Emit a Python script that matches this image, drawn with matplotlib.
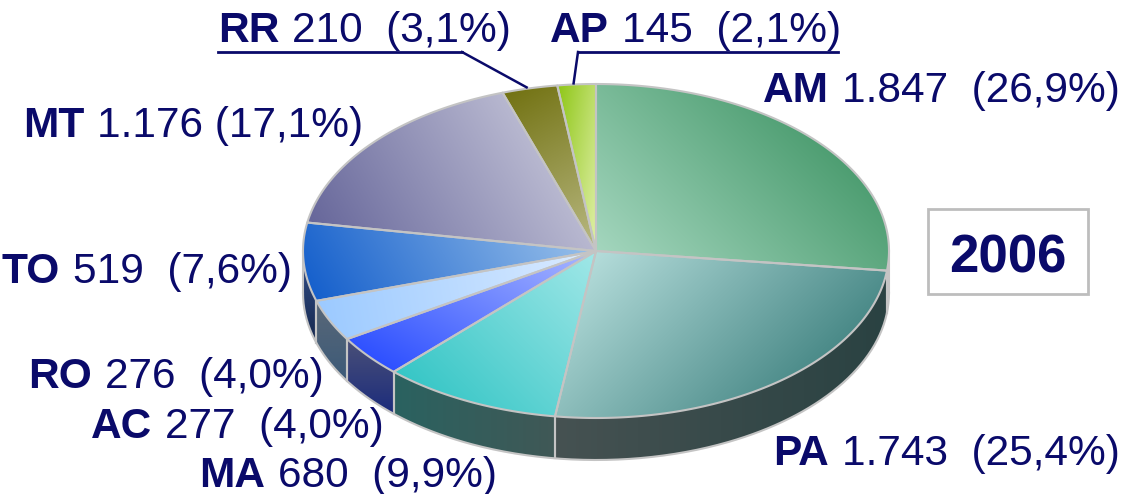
import numpy as np
import matplotlib
matplotlib.use("Agg")
import matplotlib.pyplot as plt
from matplotlib.patches import Polygon, Rectangle
from matplotlib.colors import to_rgb

# Dados por estado (2006)
states = ["AM", "PA", "MA", "AC", "RO", "TO", "MT", "RR", "AP"]
values = [1847, 1743, 680, 277, 276, 519, 1176, 210, 145]
year = "2006"

# cores do topo (claro -> escuro) e direção do degradê
top_colors = [("#a4d6be", "#4e9e72", -45), ("#b4dcda", "#4a8a88", 45),
              ("#a2e8e8", "#36c6c6", 135), ("#aab8ff", "#2e50ff", 120),
              ("#dcecff", "#9ccaff", 170), ("#98c0ea", "#1660cc", 150),
              ("#b8b8d0", "#66669a", 150), ("#727212", "#baba84", 60),
              ("#8ec616", "#e0f0a8", 10)]
side_colors = [("#3a5a4c", "#2a4238", 0), ("#465252", "#2a4242", 0),
               ("#2a6260", "#405856", 0), ("#4a5078", "#1c2c7c", 90),
               ("#5a6878", "#3c5a78", 90), ("#34508a", "#16284e", 90),
               ("#444466", "#333355", 90), ("#555522", "#444411", 90),
               ("#667733", "#556622", 90)]

label_pos = {"AM": (763, 102), "PA": (773, 465), "MA": (199, 487),
             "AC": (91, 438), "RO": (28, 388), "TO": (2, 283),
             "MT": (23, 137), "RR": (218, 42), "AP": (550, 42)}

NAVY = "#0a0a6a"
EDGE = "#c4c4c4"
cx, cy, a, b, depth = 596, 251, 293, 167, 42

W, H = 1121, 494
fig = plt.figure(figsize=(W / 100, H / 100), dpi=100)
ax = fig.add_axes([0, 0, 1, 1])
ax.set_axis_off()


def pt(theta, dy=0.0):
    t = np.radians(theta)
    return cx + a * np.cos(t), cy - b * np.sin(t) + dy


def arc(t0, t1, dy=0.0, n=None):
    n = n or max(int(abs(t1 - t0) * 2) + 2, 3)
    ts = np.linspace(t0, t1, n)
    return np.column_stack(pt(ts, dy))


def grad_fill(verts, c0, c1, ang, z):
    verts = np.asarray(verts)
    poly = Polygon(verts, closed=True, facecolor="none", edgecolor="none")
    ax.add_patch(poly)
    x0, y0 = verts.min(0)
    x1, y1 = verts.max(0)
    nx, ny = max(int(x1 - x0) + 2, 2), max(int(y1 - y0) + 2, 2)
    X, Y = np.meshgrid(np.linspace(x0, x1, nx), np.linspace(y0, y1, ny))
    d = np.array([np.cos(np.radians(ang)), np.sin(np.radians(ang))])
    proj = verts @ d
    t = ((X * d[0] + Y * d[1]) - proj.min()) / max(proj.max() - proj.min(), 1e-6)
    t = np.clip(t, 0, 1)[..., None]
    rgb = (1 - t) * np.array(to_rgb(c0)) + t * np.array(to_rgb(c1))
    im = ax.imshow(rgb, extent=(x0, x1, y1, y0), origin="upper", zorder=z,
                   interpolation="bilinear", aspect="auto")
    im.set_clip_path(poly)


total = sum(values)
cum = np.concatenate([[0], np.cumsum(values)]) / total
starts = 90 - 360 * cum[:-1]
ends = 90 - 360 * cum[1:]

# laterais (metade de baixo da elipse)
for i in range(len(values)):
    lo, hi = max(ends[i], -180), min(starts[i], 0)
    if hi <= lo:
        continue
    top = arc(hi, lo)
    bot = arc(lo, hi, depth)
    c0, c1, ang = side_colors[i]
    grad_fill(np.vstack([top, bot]), c0, c1, ang, 1)
    for t in (lo, hi):
        if -180 < t < 0:
            x, y = pt(t)
            ax.plot([x, x], [y, y + depth], color=EDGE, lw=1.5, zorder=3)

# contorno da lateral
bot = arc(-180, 0, depth, 400)
ax.plot(bot[:, 0], bot[:, 1], color=EDGE, lw=1.5, zorder=3)
for t in (-180, 0):
    x, y = pt(t)
    ax.plot([x, x], [y, y + depth], color=EDGE, lw=1.5, zorder=3)

# fatias do topo
for i in range(len(values)):
    c0, c1, ang = top_colors[i]
    verts = np.vstack([[cx, cy], arc(starts[i], ends[i])])
    grad_fill(verts, c0, c1, ang, 4)
    ax.add_patch(Polygon(verts, closed=True, facecolor="none", edgecolor=EDGE,
                         lw=1.5, zorder=5, joinstyle="round"))

# rótulos
fig.canvas.draw()
renderer = fig.canvas.get_renderer()
fs = 30.5
for i, s in enumerate(states):
    x, y = label_pos[s]
    v = values[i]
    val = f"{v:,}".replace(",", ".")
    pct = f"{100 * v / total:.1f}".replace(".", ",")
    gap = " " if s == "MT" else "  "
    tb = ax.text(x, y, s, fontsize=fs, fontweight="bold", color=NAVY,
                 family="Liberation Sans", ha="left", va="baseline", zorder=6)
    wb = tb.get_window_extent(renderer).width
    ax.text(x + wb + 13, y, f"{val}{gap}({pct}%)", fontsize=fs, color=NAVY,
            family="Liberation Sans", ha="left", va="baseline", zorder=6)

# linhas de chamada de RR e AP
for s, ux0, ux1, kx in (("RR", 218, 462, 462), ("AP", 578, 838, 578)):
    i = states.index(s)
    mid = (starts[i] + ends[i]) / 2
    px, py = pt(mid)
    ax.plot([ux0, ux1], [52, 52], color=NAVY, lw=2, zorder=6)
    ax.plot([kx, px - 3], [52, py - 1], color=NAVY, lw=1.8, zorder=6)

# caixa do ano
ax.add_patch(Rectangle((928, 209), 160, 85, facecolor="white",
                       edgecolor="#bdbdbd", lw=2, zorder=6))
ax.text(1008, 272, year, fontsize=38, fontweight="bold", color=NAVY,
        family="Liberation Sans", ha="center", va="baseline", zorder=7)

ax.set_xlim(0, W)
ax.set_ylim(H, 0)
fig.savefig("out.png", dpi=100, facecolor="white")
